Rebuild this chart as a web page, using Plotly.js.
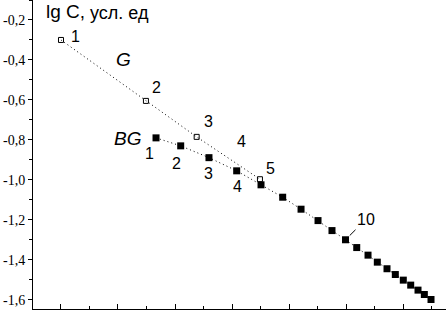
<!DOCTYPE html>
<html><head><meta charset="utf-8">
<script src="https://cdn.plot.ly/plotly-3.0.1.min.js"></script>
<style>body{margin:0;padding:0;background:#fff}#chart{width:446px;height:310px}</style>
</head><body><div id="chart"></div>
<script>
// G series (open squares), points 1,2,3,5
const gX = [0, 1.49, 2.38, 3.49];
const gY = [-0.30, -0.605, -0.785, -0.997];
// BG series (filled squares), points 1..20
const bgX = [1.667, 2.10, 2.596, 3.082, 3.509, 3.889, 4.211, 4.509, 4.754, 4.991,
             5.188, 5.386, 5.549, 5.719, 5.865, 6.005, 6.135, 6.263, 6.374, 6.491];
const bgY = [-0.79, -0.83, -0.889, -0.955, -1.025, -1.087, -1.147, -1.204, -1.254, -1.30,
             -1.339, -1.377, -1.412, -1.445, -1.474, -1.502, -1.527, -1.552, -1.574, -1.599];
// y tick labels
const yTickVals = [-0.2, -0.4, -0.6, -0.8, -1.0, -1.2, -1.4, -1.6];
const yTickText = ["-0,2", "-0,4", "-0,6", "-0,8", "-1,0", "-1,2", "-1,4", "-1,6"];
// point labels
const gLabels = ["1", "2", "3", "4", "5"];
const gLabelX = [0.263, 1.684, 2.579, 3.175, 3.667];
const gLabelY = [-0.285, -0.54, -0.71, -0.81, -0.945];
const bgLabels = ["1", "2", "3", "4"];
const bgLabelX = [1.561, 2.035, 2.579, 3.088];
const bgLabelY = [-0.87, -0.92, -0.97, -1.035];

const sans = "Liberation Sans, Arial, sans-serif";
const numFont = {family: sans, size: 16, color: "#000"};
const annotations = [];
gLabels.forEach((t, i) => annotations.push({x: gLabelX[i], y: gLabelY[i], text: t, showarrow: false, font: numFont}));
bgLabels.forEach((t, i) => annotations.push({x: bgLabelX[i], y: bgLabelY[i], text: t, showarrow: false, font: numFont}));
annotations.push({x: bgX[9], y: bgY[9], text: "10", showarrow: true, arrowhead: 0, arrowwidth: 1,
  arrowcolor: "#000", ax: 20, ay: -20, standoff: 6, font: numFont});
annotations.push({x: 1.088, y: -0.40, text: "<i>G</i>", showarrow: false,
  font: {family: sans, size: 19, color: "#000"}});
annotations.push({x: 1.175, y: -0.795, text: "<i>BG</i>", showarrow: false,
  font: {family: sans, size: 19, color: "#000"}});
annotations.push({x: -0.298, y: -0.16, xanchor: "left", yanchor: "middle",
  text: "lg C,", showarrow: false, font: {family: sans, size: 19, color: "#000"}});
annotations.push({x: 0.474, y: -0.165, xanchor: "left", yanchor: "middle",
  text: "усл. ед", showarrow: false, font: {family: sans, size: 18, color: "#000"}});

const data = [
  {x: gX, y: gY, type: "scatter", mode: "lines+markers", name: "G",
   line: {color: "#000", width: 1, dash: "1px,3px"},
   marker: {symbol: "square-open", size: 5, color: "#000", line: {width: 1, color: "#000"}}},
  {x: bgX, y: bgY, type: "scatter", mode: "lines+markers", name: "BG",
   line: {color: "#000", width: 1, dash: "1px,3px"},
   marker: {symbol: "square", size: 7, color: "#000"}}
];

const layout = {
  width: 446, height: 310,
  margin: {l: 33, r: 0, t: 0, b: 1, pad: 0},
  paper_bgcolor: "#fff", plot_bgcolor: "#fff",
  showlegend: false,
  xaxis: {range: [-0.491, 6.754], showline: true, linecolor: "#000", linewidth: 1,
    ticks: "inside", ticklen: 5, tickcolor: "#000", tick0: 0, dtick: 1,
    showticklabels: false, showgrid: false, zeroline: false,
    minor: {ticks: "inside", ticklen: 3, tickcolor: "#000", dtick: 0.5, tick0: 0, showgrid: false}},
  yaxis: {range: [-1.6465, -0.1], showline: true, linecolor: "#000", linewidth: 1,
    ticks: "outside", ticklen: 4, tickcolor: "#000",
    tickmode: "array", tickvals: yTickVals, ticktext: yTickText,
    tickfont: {family: "'Liberation Serif', 'Times New Roman', serif", size: 14, color: "#000"},
    showgrid: false, zeroline: false,
    minor: {ticks: "outside", ticklen: 3, tickcolor: "#000", tickmode: "array",
      tickvals: [-0.1, -0.3, -0.5, -0.7, -0.9, -1.1, -1.3, -1.5], showgrid: false}},
  annotations: annotations
};
Plotly.newPlot("chart", data, layout, {displayModeBar: false, staticPlot: true});
</script></body></html>
